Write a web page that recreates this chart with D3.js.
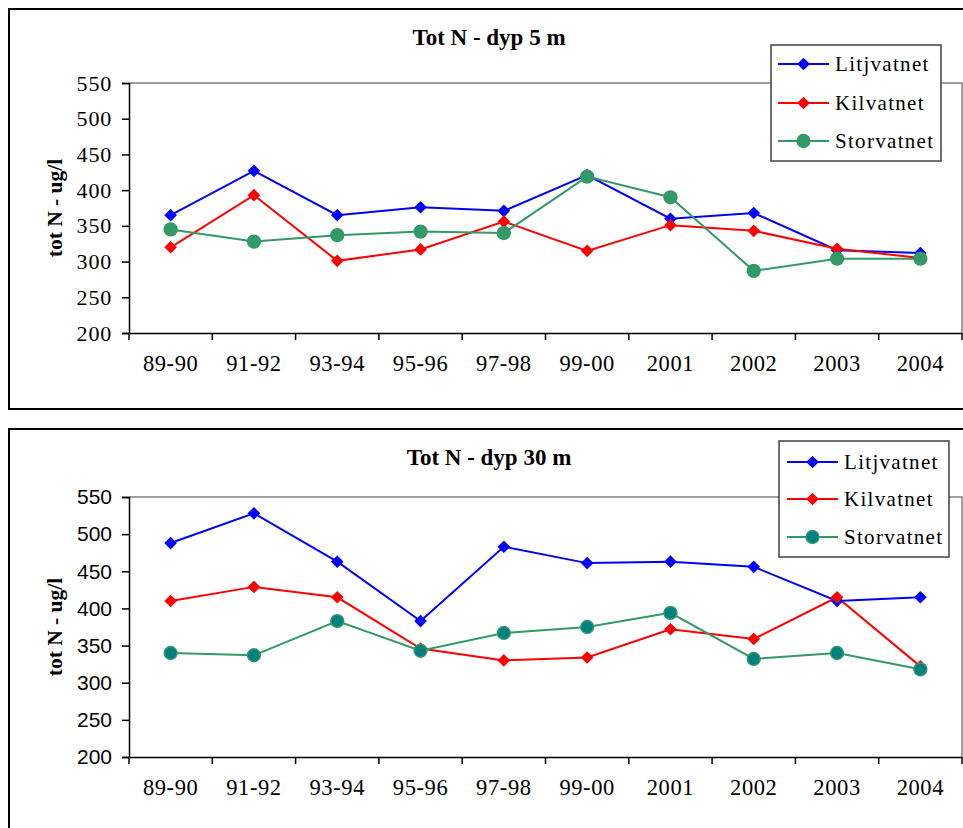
<!DOCTYPE html>
<html><head><meta charset="utf-8">
<script src="https://cdn.jsdelivr.net/npm/d3@7"></script>
<style>body{margin:0;background:#fff}svg{display:block}</style>
</head><body>
<svg id="c" width="963" height="828"></svg>
<script>
const categories = ["89-90","91-92","93-94","95-96","97-98","99-00","2001","2002","2003","2004"];
const yTicks = [200,250,300,350,400,450,500,550];
const seriesNames = ["Litjvatnet","Kilvatnet","Storvatnet"];
// Tot N - dyp 5 m
const lit5  = [365,427,365,376,371,421,360,368,316,312];
const kil5  = [320,393,301,317,356,315,351,343,318,305];
const stor5 = [345,328,337,342,340,419,390,287,304,304];
// Tot N - dyp 30 m
const lit30  = [488,528,463,383,483,461,463,456,410,415];
const kil30  = [410,429,415,346,330,334,372,359,415,322];
const stor30 = [340,337,383,343,367,375,394,332,340,318];

const svg = d3.select("#c");
const serif = "'Liberation Serif','Times New Roman',serif";
const sans = "'Liberation Sans',Arial,sans-serif";

function drawChart(o){
  const g = svg.append("g");
  // outer frame
  g.append("rect").attr("x",9).attr("y",o.frameTop).attr("width",980).attr("height",o.frameH)
    .attr("fill","#fff").attr("stroke","#000").attr("stroke-width",2);
  const x = d3.scaleBand().domain(categories).range([129,962]).padding(0);
  const y = d3.scaleLinear().domain([200,550]).range([o.bottom,o.top]);
  // plot border (top/right gray)
  g.append("path").attr("d",`M129,${o.top}H962V${o.bottom}`).attr("fill","none").attr("stroke","#808080").attr("stroke-width",1.5);
  // y axis
  const ya = g.append("g").attr("transform","translate(129,0)")
    .call(d3.axisLeft(y).tickValues(yTicks).tickSize(7).tickPadding(10));
  ya.select(".domain").attr("stroke","#000").attr("stroke-width",1.5);
  ya.selectAll(".tick line").attr("stroke","#000").attr("stroke-width",1.5);
  ya.selectAll("text").attr("font-family",o.yFont).attr("font-size",o.yFontSize).attr("fill","#000")
    .attr("letter-spacing",o.yLS);
  // x axis
  const xa = g.append("g").attr("transform",`translate(0,${o.bottom})`)
    .call(d3.axisBottom(x).tickSize(0).tickPadding(0));
  xa.select(".domain").attr("stroke","#000").attr("stroke-width",1.5);
  xa.selectAll("text").attr("font-family",serif).attr("font-size",22.5).attr("fill","#000")
    .attr("dy",null).attr("y",38).attr("letter-spacing",0.6);
  const bounds = categories.map(c=>x(c)).concat([x.range()[1]]);
  g.selectAll(".xt").data(bounds).enter().append("line")
    .attr("x1",d=>d).attr("x2",d=>d).attr("y1",o.bottom).attr("y2",o.bottom+7)
    .attr("stroke","#000").attr("stroke-width",1.5);
  // title
  g.append("text").attr("x",489).attr("y",o.titleY).attr("text-anchor","middle")
    .attr("font-family",serif).attr("font-weight","bold").attr("font-size",23).text(o.title);
  // y title
  g.append("text").attr("transform",`translate(62,${(o.top+o.bottom)/2}) rotate(-90)`)
    .attr("text-anchor","middle").attr("font-family",serif).attr("font-weight","bold")
    .attr("font-size",21.5).text("tot N - ug/l");
  const cx = c=>x(c)+x.bandwidth()/2;
  const line = d3.line().x((d,i)=>cx(categories[i])).y(d=>y(d));
  o.series.forEach((s,k)=>{
    g.append("path").datum(s.values).attr("d",line).attr("fill","none")
      .attr("stroke",s.color).attr("stroke-width",2);
  });
  o.series.forEach((s,k)=>{
    const mk = g.selectAll(null).data(s.values).enter();
    if(s.marker==="diamond"){
      mk.append("path").attr("d",d3.symbol().type(d3.symbolSquare).size(80))
        .attr("transform",(d,i)=>`translate(${cx(categories[i])},${y(d)}) rotate(45)`)
        .attr("fill",s.color);
    } else {
      mk.append("circle").attr("cx",(d,i)=>cx(categories[i])).attr("cy",d=>y(d)).attr("r",6.4)
        .attr("fill",s.fill).attr("stroke",s.color).attr("stroke-width",1.5);
    }
  });
  // legend
  const L = o.legend;
  const lg = g.append("g");
  lg.append("rect").attr("x",L.x).attr("y",L.y).attr("width",L.w).attr("height",L.h)
    .attr("fill","#fff").attr("stroke","#404040").attr("stroke-width",1.5);
  o.series.forEach((s,k)=>{
    const ry = L.rowY[k];
    lg.append("line").attr("x1",L.lx1).attr("x2",L.lx1+51).attr("y1",ry).attr("y2",ry)
      .attr("stroke",s.color).attr("stroke-width",2);
    if(s.marker==="diamond"){
      lg.append("path").attr("d",d3.symbol().type(d3.symbolSquare).size(80))
        .attr("transform",`translate(${L.lx1+25.5},${ry}) rotate(45)`).attr("fill",s.color);
    } else {
      lg.append("circle").attr("cx",L.lx1+25.5).attr("cy",ry).attr("r",6.4)
        .attr("fill",s.fill).attr("stroke",s.color).attr("stroke-width",1.5);
    }
    lg.append("text").attr("x",L.lx1+57).attr("y",ry+7).attr("font-family",serif)
      .attr("font-size",21).attr("letter-spacing",1.3).text(seriesNames[k]);
  });
}

drawChart({
  frameTop:9, frameH:400, top:83, bottom:333, titleY:45, title:"Tot N - dyp 5 m",
  yFont:serif, yFontSize:22, yLS:0.8,
  series:[
    {values:lit5,color:"#0000FF",marker:"diamond"},
    {values:kil5,color:"#FF0000",marker:"diamond"},
    {values:stor5,color:"#339966",fill:"#339966",marker:"circle"}
  ],
  legend:{x:771,y:45,w:170,h:116,lx1:778,rowY:[64,103,141]}
});
drawChart({
  frameTop:429, frameH:420, top:497, bottom:757, titleY:465, title:"Tot N - dyp 30 m",
  yFont:sans, yFontSize:21, yLS:0,
  series:[
    {values:lit30,color:"#0000FF",marker:"diamond"},
    {values:kil30,color:"#FF0000",marker:"diamond"},
    {values:stor30,color:"#339966",fill:"#008080",marker:"circle"}
  ],
  legend:{x:779,y:441,w:170,h:116,lx1:787,rowY:[462,499,537]}
});
</script>
</body></html>
